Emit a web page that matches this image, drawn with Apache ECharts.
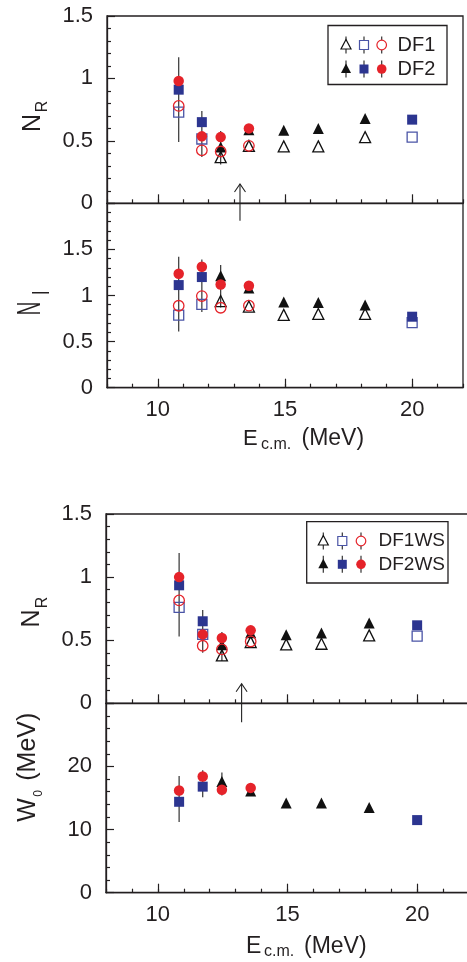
<!DOCTYPE html>
<html>
<head>
<meta charset="utf-8">
<script src="https://cdn.jsdelivr.net/npm/echarts@6/dist/echarts.min.js"></script>
<style>
html,body{margin:0;padding:0;background:#fff;}
#chart{width:467px;height:962px;}
</style>
</head>
<body>
<div id="chart"></div>
<script>
// ---------- data ----------
const energy = [10.82, 11.73, 12.47, 13.58, 14.95, 16.31, 18.15, 20.0];

// Panel 1: N_R (DF1 / DF2)
const nrDF1Tri  = [null, null, 0.37, 0.46, 0.456, 0.456, 0.53, null];
const nrDF2Tri  = [null, null, 0.45, 0.59, 0.585, 0.60, 0.68, null];
const nrDF1Sq   = [0.73, 0.515, null, null, null, null, null, 0.53];
const nrDF2Sq   = [0.91, 0.65, null, null, null, null, null, 0.67];
const nrDF1Circ = [0.78, 0.424, 0.415, 0.46, null, null, null, null];
const nrDF2Circ = [0.98, 0.536, 0.53, 0.60, null, null, null, null];
const nrErrLo   = [0.49, 0.37, 0.31, null, null, null, null, null];
const nrErrHi   = [1.17, 0.74, 0.58, null, null, null, null, null];

// Panel 2: N_I (DF1 / DF2)
const niDF1Tri  = [null, null, 0.94, 0.88, 0.79, 0.80, 0.80, null];
const niDF2Tri  = [null, null, 1.214, 1.08, 0.93, 0.925, 0.896, null];
const niDF1Sq   = [0.788, 0.904, null, null, null, null, null, 0.705];
const niDF2Sq   = [1.113, 1.2, null, null, null, null, null, 0.77];
const niDF1Circ = [0.889, 0.994, 0.867, 0.89, null, null, null, null];
const niDF2Circ = [1.236, 1.312, 1.12, 1.106, null, null, null, null];
const niErrLo   = [0.61, 0.82, 0.87, null, null, null, null, null];
const niErrHi   = [1.42, 1.39, 1.33, null, null, null, null, null];

// Panel 3: N_R (DF1WS / DF2WS)
const wsDF1Tri  = [null, null, 0.38, 0.485, 0.467, 0.472, 0.538, null];
const wsDF2Tri  = [null, null, 0.464, 0.56, 0.544, 0.557, 0.637, null];
const wsDF1Sq   = [0.76, 0.546, null, null, null, null, null, 0.533];
const wsDF2Sq   = [0.935, 0.65, null, null, null, null, null, 0.618];
const wsDF1Circ = [0.815, 0.456, 0.427, 0.49, null, null, null, null];
const wsDF2Circ = [1.0, 0.546, 0.517, 0.578, null, null, null, null];
const wsErrLo   = [0.53, 0.40, 0.335, null, null, null, null, null];
const wsErrHi   = [1.19, 0.74, 0.565, null, null, null, null, null];

// Panel 4: W0 (MeV)
const w0Tri   = [null, null, 17.6, 16.1, 14.2, 14.2, 13.5, null];
const w0Sq    = [14.4, 16.8, null, null, null, null, null, 11.5];
const w0Circ  = [16.2, 18.4, 16.3, 16.6, null, null, null, null];
const w0ErrLo = [11.2, 15.1, 15.4, null, null, null, null, null];
const w0ErrHi = [18.5, 19.4, 19.05, null, null, null, null, null];

// Coulomb-barrier arrow
const arrowE = 13.23;
const arrowTipNR = 0.155;
const arrowTailNI = 1.81;
const arrowTailW0 = 27;

const xTicks = [10, 15, 20];
const legendTop = ['DF1', 'DF2'];
const legendBottom = ['DF1WS', 'DF2WS'];

// ---------- helpers ----------
const FONT = '"Liberation Sans", Arial, Helvetica, sans-serif';
const INK = '#231f20';
const RED = '#e5232a';
const BLUE = '#2c3590';
const BLUE_OPEN = '#4a54a6';

function pairs(arr) {
  const out = [];
  energy.forEach((e, i) => { if (arr[i] != null) out.push([e, arr[i]]); });
  return out;
}
function errs(lo, hi) {
  const out = [];
  energy.forEach((e, i) => { if (lo[i] != null) out.push([e, lo[i], hi[i]]); });
  return out;
}
function scatter(g, arr, shape, filled, color) {
  const size = shape === 'triangle' ? 11 : (shape === 'rect' ? 10 : 10.5);
  return {
    type: 'scatter', xAxisIndex: 2 * g, yAxisIndex: g,
    data: pairs(arr), symbol: shape, symbolSize: size,
    silent: true, animation: false, z: 3,
    itemStyle: filled
      ? { color: color, borderWidth: 0, opacity: 1 }
      : { color: 'rgba(255,255,255,0)', borderColor: color, borderWidth: 1.3, opacity: 1 }
  };
}
function errSeries(g, lo, hi) {
  return {
    type: 'custom', xAxisIndex: 2 * g, yAxisIndex: g, silent: true, animation: false, z: 2,
    data: errs(lo, hi), encode: { x: 0, y: [1, 2] },
    renderItem: function (params, api) {
      const x = api.value(0);
      const a = api.coord([x, api.value(1)]);
      const b = api.coord([x, api.value(2)]);
      return { type: 'line', shape: { x1: a[0], y1: a[1], x2: b[0], y2: b[1] },
               style: { stroke: '#333', lineWidth: 1.2 } };
    }
  };
}
function arrowSeries(g, lo, hi, head) {
  return {
    type: 'custom', xAxisIndex: 2 * g, yAxisIndex: g, silent: true, animation: false, z: 2,
    data: [[arrowE, lo, hi]], encode: { x: 0, y: [1, 2] },
    renderItem: function (params, api) {
      const x = api.value(0);
      const a = api.coord([x, api.value(1)]);
      const b = api.coord([x, api.value(2)]);
      const children = [{ type: 'line', shape: { x1: a[0], y1: a[1], x2: b[0], y2: b[1] },
                          style: { stroke: '#222', lineWidth: 1.1 } }];
      if (head) {
        children.push({ type: 'polyline',
          shape: { points: [[b[0] - 5.5, b[1] + 8], [b[0], b[1]], [b[0] + 5.5, b[1] + 8]] },
          style: { stroke: '#222', lineWidth: 1.1, fill: null } });
      }
      return { type: 'group', children: children };
    }
  };
}

const grids = [
  { left: 107, top: 16, width: 356, height: 187.3 },
  { left: 107, top: 203.3, width: 356, height: 184.4 },
  { left: 106, top: 514, width: 363, height: 189.3 },
  { left: 106, top: 703.3, width: 363, height: 189.4 }
].map(g => Object.assign({ show: true, borderColor: INK, borderWidth: 1.3, backgroundColor: 'transparent', containLabel: false, outerBoundsMode: 'none' }, g));

const xAxes = [];
[false, true, false, true].forEach((showLab, g) => {
  xAxes.push({
    type: 'value', gridIndex: g, min: 8, max: 22, position: 'bottom',
    axisLine: { show: true, onZero: false, lineStyle: { color: INK, width: 1.3 } },
    axisTick: { show: true, inside: true, length: 9, customValues: xTicks, lineStyle: { color: INK, width: 1.2 } },
    axisLabel: { show: showLab, customValues: xTicks, margin: 11, color: INK, fontFamily: FONT, fontSize: 22 },
    splitLine: { show: false }
  });
  xAxes.push({
    type: 'value', gridIndex: g, min: 8, max: 22, interval: 1, position: 'bottom',
    axisLine: { show: false },
    axisTick: { show: true, inside: true, length: 4, lineStyle: { color: INK, width: 1.2 } },
    axisLabel: { show: false }, splitLine: { show: false }
  });
});

function yAxis(g, max, interval, hideMax) {
  return {
    type: 'value', gridIndex: g, min: 0, max: max, interval: interval,
    axisLine: { show: true, onZero: false, lineStyle: { color: INK, width: 1.3 } },
    axisTick: { show: true, inside: true, length: 8, lineStyle: { color: INK, width: 1.2 } },
    minorTick: { show: true, splitNumber: 5, length: 4, lineStyle: { color: INK, width: 1.2 } },
    axisLabel: { show: true, margin: 14, color: INK, fontFamily: FONT, fontSize: 22, showMaxLabel: !hideMax },
    splitLine: { show: false }, minorSplitLine: { show: false }
  };
}
const yAxes = [yAxis(0, 1.5, 0.5, false), yAxis(1, 2, 0.5, true), yAxis(2, 1.5, 0.5, false), yAxis(3, 30, 10, true)];

const series = [
  errSeries(0, nrErrLo, nrErrHi),
  arrowSeries(0, 0, arrowTipNR, true),
  scatter(0, nrDF1Tri, 'triangle', false, '#111'),
  scatter(0, nrDF2Tri, 'triangle', true, '#111'),
  scatter(0, nrDF1Sq, 'rect', false, BLUE_OPEN),
  scatter(0, nrDF2Sq, 'rect', true, BLUE),
  scatter(0, nrDF1Circ, 'circle', false, RED),
  scatter(0, nrDF2Circ, 'circle', true, RED),

  errSeries(1, niErrLo, niErrHi),
  arrowSeries(1, arrowTailNI, 2, false),
  scatter(1, niDF1Tri, 'triangle', false, '#111'),
  scatter(1, niDF2Tri, 'triangle', true, '#111'),
  scatter(1, niDF1Sq, 'rect', false, BLUE_OPEN),
  scatter(1, niDF2Sq, 'rect', true, BLUE),
  scatter(1, niDF1Circ, 'circle', false, RED),
  scatter(1, niDF2Circ, 'circle', true, RED),

  errSeries(2, wsErrLo, wsErrHi),
  arrowSeries(2, 0, arrowTipNR, true),
  scatter(2, wsDF1Tri, 'triangle', false, '#111'),
  scatter(2, wsDF2Tri, 'triangle', true, '#111'),
  scatter(2, wsDF1Sq, 'rect', false, BLUE_OPEN),
  scatter(2, wsDF2Sq, 'rect', true, BLUE),
  scatter(2, wsDF1Circ, 'circle', false, RED),
  scatter(2, wsDF2Circ, 'circle', true, RED),

  errSeries(3, w0ErrLo, w0ErrHi),
  arrowSeries(3, arrowTailW0, 30, false),
  scatter(3, w0Tri, 'triangle', true, '#111'),
  scatter(3, w0Sq, 'rect', true, BLUE),
  scatter(3, w0Circ, 'circle', true, RED)
];

// ---------- graphic: titles & legends ----------
function txt(text, x, y, size, opts) {
  opts = opts || {};
  const el = {
    type: 'text', x: x, y: y, rotation: opts.rot ? Math.PI / 2 : 0, silent: true, z: 10,
    style: { text: text, fill: INK, font: size + 'px ' + FONT,
             align: opts.align || 'center', verticalAlign: 'middle',
             textAlign: opts.align || 'center', textVerticalAlign: 'middle', x: 0, y: 0 }
  };
  if (opts.scaleX) el.scaleX = opts.scaleX;
  return el;
}
function legendBlock(x, y, w, h, rows, sx, textX, fontSize) {
  const els = [{ type: 'rect', shape: { x: x, y: y, width: w, height: h }, silent: true, z: 9,
                 style: { fill: '#fff', stroke: INK, lineWidth: 1.3 } }];
  rows.forEach((r, i) => {
    const cy = r.y;
    const filled = i === 1;
    sx.forEach(cx => els.push({ type: 'line', silent: true, z: 10,
      shape: { x1: cx, y1: cy - 8.5, x2: cx, y2: cy + 8.5 }, style: { stroke: '#333', lineWidth: 1.2 } }));
    els.push({ type: 'polygon', silent: true, z: 11,
      shape: { points: [[sx[0], cy - 5.5], [sx[0] + 5, cy + 4], [sx[0] - 5, cy + 4]] },
      style: filled ? { fill: '#111' } : { fill: '#fff', stroke: '#111', lineWidth: 1.2 } });
    els.push({ type: 'rect', silent: true, z: 11,
      shape: { x: sx[1] - 4.5, y: cy - 4.5, width: 9, height: 9 },
      style: filled ? { fill: BLUE } : { fill: '#fff', stroke: BLUE_OPEN, lineWidth: 1.2 } });
    els.push({ type: 'circle', silent: true, z: 11,
      shape: { cx: sx[2], cy: cy, r: 4.8 },
      style: filled ? { fill: RED } : { fill: '#fff', stroke: RED, lineWidth: 1.2 } });
    els.push(txt(r.label, textX, cy, fontSize, { align: 'left' }));
  });
  return els;
}

const graphics = [].concat(
  // y titles
  [txt('N', 33, 123, 25, { rot: true }), txt('R', 43, 106.5, 16, { rot: true })],
  [txt('N', 30.5, 308.5, 34, { rot: true, scaleX: 0.55 }), txt('I', 43, 292.7, 23, { rot: true, scaleX: 0.7 })],
  [txt('N', 31.7, 618.5, 25, { rot: true }), txt('R', 43, 602.5, 16, { rot: true })],
  [txt('W', 28.5, 810, 25, { rot: true }), txt('0', 38.5, 793.5, 12, { rot: true }), txt('(MeV)', 28.5, 746.7, 25, { rot: true })],
  // x titles
  [txt('E', 243, 439, 22, { align: 'left' }), txt('c.m.', 261, 445, 16, { align: 'left' }), txt('(MeV)', 301.5, 439, 23, { align: 'left' })],
  [txt('E', 246, 946.5, 23, { align: 'left' }), txt('c.m.', 264, 952, 16, { align: 'left' }), txt('(MeV)', 304, 946.5, 23, { align: 'left' })],
  // legends
  legendBlock(328, 25.5, 119, 59, [{ y: 45, label: legendTop[0] }, { y: 69, label: legendTop[1] }], [346, 364, 381.7], 397.5, 20),
  legendBlock(306.7, 521.7, 141.3, 61.3, [{ y: 541, label: legendBottom[0] }, { y: 564.3, label: legendBottom[1] }], [323.3, 342.3, 361], 378.5, 19)
);

const chart = echarts.init(document.getElementById('chart'), null, { renderer: 'canvas', width: 467, height: 962 });
chart.setOption({
  animation: false,
  backgroundColor: '#fff',
  textStyle: { fontFamily: FONT },
  grid: grids,
  xAxis: xAxes,
  yAxis: yAxes,
  series: series,
  graphic: { elements: graphics }
});
</script>
</body>
</html>
